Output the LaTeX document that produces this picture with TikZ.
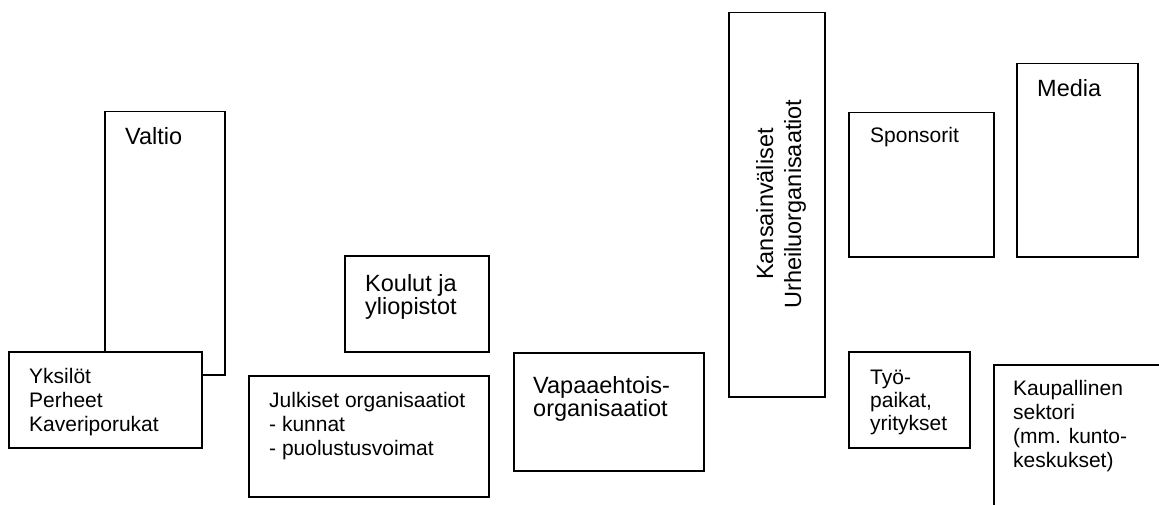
\documentclass[tikz,border=0pt]{standalone}
\usepackage{fontspec}
\setmainfont{Liberation Sans}
\begin{document}
\begin{tikzpicture}[x=1pt,y=-1pt,
  box/.style={draw=black,line width=1.5pt,fill=white,rectangle,inner sep=0pt,anchor=north west},
  big/.style={font=\fontsize{23.5}{24}\selectfont,inner sep=0pt,anchor=base west},
  small/.style={font=\fontsize{21}{24}\selectfont,inner sep=0pt,anchor=base west}]
\fill[white] (0,0) rectangle (1159,505);
\clip (0,0) rectangle (1159,505);
% boxes
\node[box,minimum width=120pt,minimum height=263pt] (valtio) at (104,111) {};
\node[box,minimum width=193pt,minimum height=96pt] (yks) at (8,351) {};
\node[box,minimum width=144pt,minimum height=96pt] (koulut) at (344,255) {};
\node[box,minimum width=240pt,minimum height=121pt] (julk) at (248,375) {};
\node[box,minimum width=190pt,minimum height=118pt] (vapaa) at (513,352) {};
\node[box,minimum width=96pt,minimum height=384pt] (kans) at (728,12) {};
\node[box,minimum width=145pt,minimum height=144pt] (spons) at (848,112) {};
\node[box,minimum width=121pt,minimum height=193pt] (media) at (1016,63) {};
\node[box,minimum width=121pt,minimum height=96pt] (tyo) at (848,351) {};
\node[box,minimum width=200pt,minimum height=170pt] (kaup) at (993,364) {};
% texts
\node[big] (tvaltio) at (125,145) {Valtio};
\node[small] (tyks1) at (29,383) {Yksilöt};
\node[small] (tyks2) at (29,407) {Perheet};
\node[small] (tyks3) at (29,431) {Kaveriporukat};
\node[big] (tkoul1) at (365,291) {Koulut ja};
\node[big] (tkoul2) at (365,314) {yliopistot};
\node[small] (tjulk1) at (269,407) {Julkiset organisaatiot};
\node[small] (tjulk2) at (269,431) {- kunnat};
\node[small] (tjulk3) at (269,455) {- puolustusvoimat};
\node[big] (tvap1) at (533,393) {Vapaaehtois-};
\node[big] (tvap2) at (533,416) {organisaatiot};
\node[big,anchor=base,rotate=90] (tkans1) at (773,204) {Kansainväliset};
\node[big,anchor=base,rotate=90] (tkans2) at (801,204) {Urheiluorganisaatiot};
\node[small] (tspons) at (870,143) {Sponsorit};
\node[big] (tmedia) at (1037,97) {Media};
\node[small] (ttyo1) at (870,384) {Työ-};
\node[small] (ttyo2) at (870,407) {paikat,};
\node[small] (ttyo3) at (870,430) {yritykset};
\node[small] (tkaup1) at (1013,395) {Kaupallinen};
\node[small] (tkaup2) at (1013,419) {sektori};
\node[small] (tkaup3) at (1013,443) {(mm. kunto-};
\node[small] (tkaup4) at (1013,467) {keskukset)};
\end{tikzpicture}
\end{document}
